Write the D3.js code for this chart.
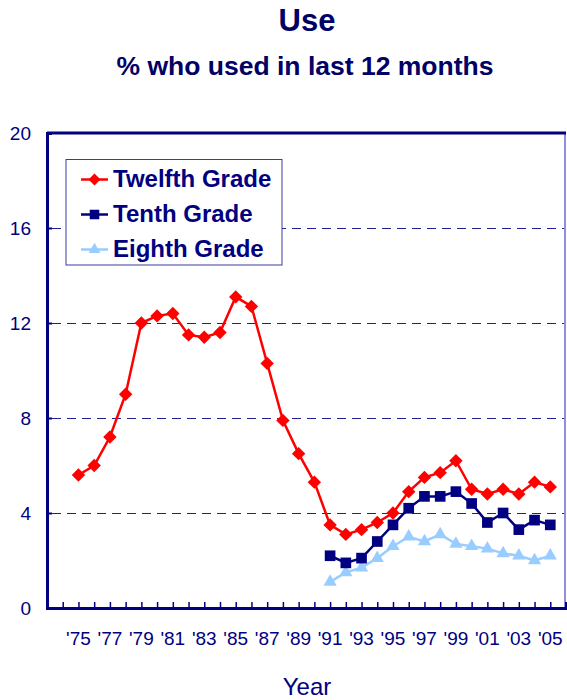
<!DOCTYPE html>
<html>
<head>
<meta charset="utf-8">
<script src="https://cdn.jsdelivr.net/npm/d3@7"></script>
<style>
  body { margin: 0; background: #fff; }
  svg { font-family: Arial, "Liberation Sans", sans-serif; }
</style>
</head>
<body>
<svg id="chart"></svg>
<script>
const years = d3.range(1975, 2006);
const yTicks = [0, 4, 8, 12, 16, 20];

const twelfth = [5.6, 6.0, 7.2, 9.0, 12.0, 12.3, 12.4, 11.5, 11.4, 11.6,
  13.1, 12.7, 10.3, 7.9, 6.5, 5.3, 3.5, 3.1, 3.3, 3.6,
  4.0, 4.9, 5.5, 5.7, 6.2, 5.0, 4.8, 5.0, 4.8, 5.3, 5.1];
const tenthYears = d3.range(1991, 2006);
const tenth = [2.2, 1.9, 2.1, 2.8, 3.5, 4.2, 4.7, 4.7, 4.9, 4.4, 3.6, 4.0, 3.3, 3.7, 3.5];
const eighth = [1.1, 1.5, 1.7, 2.1, 2.6, 3.0, 2.8, 3.1, 2.7, 2.6, 2.5, 2.3, 2.2, 2.0, 2.2];

const navy = "#000080";
const svg = d3.select("#chart").attr("width", 567).attr("height", 700);

const margin = { top: 133, left: 47, right: 1, bottom: 92 };
const W = 567 - margin.left - margin.right;
const H = 700 - margin.top - margin.bottom;

const x = d3.scaleLinear().domain([1973, 2006]).range([margin.left, margin.left + W]);
const y = d3.scaleLinear().domain([0, 20]).range([margin.top + H, margin.top]);

// titles
svg.append("text").attr("x", 307).attr("y", 31).attr("text-anchor", "middle")
  .style("font-size", "31px").style("font-weight", "bold").attr("fill", "#000066").text("Use");
svg.append("text").attr("x", 305).attr("y", 75).attr("text-anchor", "middle")
  .style("font-size", "26.5px").style("font-weight", "bold").attr("fill", "#000066")
  .text("% who used in last 12 months");

// gridlines (snapped to pixel grid for crisp dashes)
svg.append("g").selectAll("line").data(yTicks.filter(d => d > 0 && d < 20)).join("line")
  .attr("x1", x(1973) + 5).attr("x2", x(2006) - 2)
  .attr("y1", d => Math.round(y(d)) + 0.5).attr("y2", d => Math.round(y(d)) + 0.5)
  .attr("stroke", "#202090").attr("stroke-width", 1).attr("stroke-dasharray", "9,6");

// frame right
svg.append("line").attr("x1", x(2006) - 1).attr("x2", x(2006) - 1)
  .attr("y1", y(20)).attr("y2", y(0)).attr("stroke", "#6a6ad0").attr("stroke-width", 1.5);
// top frame
svg.append("line").attr("x1", x(1973)).attr("x2", x(2006))
  .attr("y1", y(20)).attr("y2", y(20)).attr("stroke", navy).attr("stroke-width", 3);

// y axis
const yAxis = svg.append("g").attr("transform", `translate(${x(1973)},0)`)
  .call(d3.axisRight(y).tickValues(yTicks).tickSize(5).tickFormat(""));
yAxis.select(".domain").attr("stroke", navy).attr("stroke-width", 3);
yAxis.selectAll(".tick line").attr("stroke", navy).attr("stroke-width", 2);
svg.append("g").selectAll("text").data(yTicks).join("text")
  .attr("x", 31).attr("y", d => y(d) + 7).attr("text-anchor", "end")
  .style("font-size", "19px").attr("fill", navy).text(d => d);

// x axis
const xAxis = svg.append("g").attr("transform", `translate(0,${y(0)})`)
  .call(d3.axisTop(x).tickValues(d3.range(1974, 2006)).tickSize(6).tickFormat(""));
xAxis.select(".domain").attr("stroke", navy).attr("stroke-width", 3);
xAxis.selectAll(".tick line").attr("stroke", navy).attr("stroke-width", 1.5);
svg.append("g").selectAll("text").data(years.filter(d => d % 2 === 1)).join("text")
  .attr("x", d => x(d)).attr("y", 645).attr("text-anchor", "middle")
  .style("font-size", "19px").attr("fill", navy)
  .text(d => "'" + String(d).slice(2));
svg.append("text").attr("x", 307).attr("y", 695).attr("text-anchor", "middle")
  .style("font-size", "24px").attr("fill", navy).text("Year");

// series
const line = d3.line().x(d => x(d[0])).y(d => y(d[1]));
const series = [
  { name: "Twelfth Grade", color: "#ff0000", sym: d3.symbolDiamond2, size: 115,
    data: years.map((yr, i) => [yr, twelfth[i]]) },
  { name: "Tenth Grade", color: navy, sym: d3.symbolSquare2, size: 145,
    data: tenthYears.map((yr, i) => [yr, tenth[i]]) },
  { name: "Eighth Grade", color: "#99ccff", sym: d3.symbolTriangle2, size: 125,
    data: tenthYears.map((yr, i) => [yr, eighth[i]]) }
];

series.slice().reverse().forEach(s => {
  svg.append("path").datum(s.data).attr("d", line)
    .attr("fill", "none").attr("stroke", s.color).attr("stroke-width", 2.5);
  svg.append("g").selectAll("path").data(s.data).join("path")
    .attr("transform", d => `translate(${x(d[0])},${y(d[1])})`)
    .attr("d", d3.symbol().type(s.sym).size(s.size))
    .attr("fill", s.color);
});

// legend
const lg = svg.append("g");
lg.append("rect").attr("x", 66).attr("y", 159.5).attr("width", 216).attr("height", 105.5)
  .attr("fill", "#fff").attr("stroke", "#3a3aa0").attr("stroke-width", 1);
series.forEach((s, i) => {
  const cy = 179.5 + i * 35;
  lg.append("line").attr("x1", 81).attr("x2", 108).attr("y1", cy).attr("y2", cy)
    .attr("stroke", s.color).attr("stroke-width", 2.5);
  lg.append("path").attr("transform", `translate(94.5,${cy})`)
    .attr("d", d3.symbol().type(s.sym).size(s.size * 0.8)).attr("fill", s.color);
  lg.append("text").attr("x", 113).attr("y", cy + 7.5).style("font-size", "24px")
    .style("font-weight", "bold").attr("fill", navy).text(s.name);
});
</script>
</body>
</html>
